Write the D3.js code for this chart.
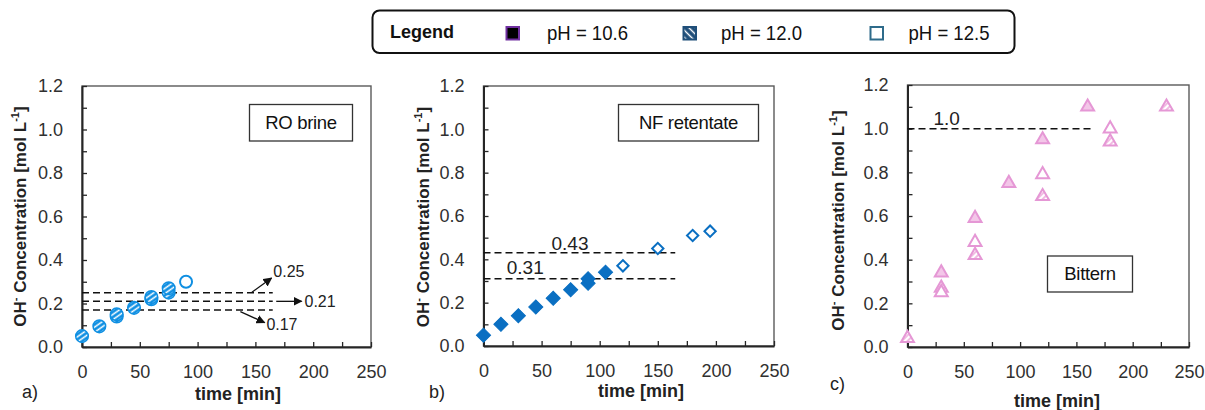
<!DOCTYPE html>
<html>
<head>
<meta charset="utf-8">
<script src="https://cdn.jsdelivr.net/npm/d3@7"></script>
<style>
  html, body { margin: 0; padding: 0; background: #fff; }
  svg { display: block; font-family: "Liberation Sans", Arial, sans-serif; }
</style>
</head>
<body>
<svg id="chart" width="1205" height="410"></svg>
<script>
// ---------- data ----------
const timeTicks = [0, 50, 100, 150, 200, 250];
const concTicks = [0, 0.2, 0.4, 0.6, 0.8, 1.0, 1.2];
const phLabels = ["pH = 10.6", "pH = 12.0", "pH = 12.5"];

// a) RO brine
const roTime120 = [0, 15, 30, 30, 45, 60, 60, 75, 75];
const roConc120 = [0.05, 0.095, 0.14, 0.15, 0.18, 0.22, 0.23, 0.25, 0.27];
const roTime125 = [90];
const roConc125 = [0.30];
const roGuides = [0.25, 0.21, 0.17];

// b) NF retentate
const nfTime106 = [0, 15, 30, 45, 60, 75, 90, 90, 105];
const nfConc106 = [0.05, 0.10, 0.14, 0.18, 0.22, 0.26, 0.29, 0.31, 0.34];
const nfTime125 = [120, 150, 180, 195];
const nfConc125 = [0.37, 0.45, 0.51, 0.53];
const nfGuides = [0.43, 0.31];

// c) Bittern
const btTime106 = [30, 60, 90, 120, 160];
const btConc106 = [0.34, 0.59, 0.75, 0.95, 1.10];
const btTime120 = [0, 30, 60, 120, 180, 230];
const btConc120 = [0.04, 0.27, 0.42, 0.69, 0.94, 1.10];
const btTime125 = [30, 60, 120, 180];
const btConc125 = [0.25, 0.48, 0.79, 1.00];
const btGuides = [1.0];

const guideEnd = 165;   // time where the dashed reference lines stop

// ---------- styling ----------
const BLUE_A = "#0F8FE2";
const BLUE_B = "#0A6FC2";
const PINK = "#E597D5";
const PINK_FILL = "#F3C6E8";

const svg = d3.select("#chart");
const defs = svg.append("defs");

function hatch(id, bg, fg, size, width, angle) {
  const p = defs.append("pattern")
    .attr("id", id)
    .attr("patternUnits", "userSpaceOnUse")
    .attr("width", size).attr("height", size)
    .attr("patternTransform", `rotate(${angle})`);
  p.append("rect").attr("width", size).attr("height", size).attr("fill", bg);
  p.append("line").attr("x1", 0).attr("x2", size).attr("y1", size / 2).attr("y2", size / 2)
    .attr("stroke", fg).attr("stroke-width", width);
}
hatch("hatchBlue", BLUE_A, "#fff", 4.2, 1.5, -35);
hatch("hatchPink", "#fff", "#F0B4DF", 4, 1.8, -45);
hatch("hatchLegend", "#1F4E79", "#fff", 5, 1.4, 45);

defs.append("marker")
  .attr("id", "arrowHead")
  .attr("viewBox", "0 0 10 10")
  .attr("refX", 9).attr("refY", 5)
  .attr("markerWidth", 9).attr("markerHeight", 9)
  .attr("markerUnits", "userSpaceOnUse")
  .attr("orient", "auto")
  .append("path").attr("d", "M0,0 L10,5 L0,10 Z").attr("fill", "#111");

const markerStyles = {
  circleHatch:  { type: d3.symbolCircle,   size: Math.PI * 6.3 * 6.3, fill: "url(#hatchBlue)", stroke: BLUE_A, sw: 1.5, rot: 0 },
  circleOpen:   { type: d3.symbolCircle,   size: Math.PI * 6 * 6,     fill: "#fff",            stroke: BLUE_A, sw: 2,   rot: 0 },
  diamondFill:  { type: d3.symbolSquare,   size: 100,                 fill: BLUE_B,            stroke: BLUE_B, sw: 1,   rot: 45 },
  diamondOpen:  { type: d3.symbolSquare,   size: 64,                  fill: "#fff",            stroke: BLUE_B, sw: 2,   rot: 45 },
  triFill:      { type: d3.symbolTriangle, size: 72,                  fill: PINK_FILL,         stroke: PINK,   sw: 2,   rot: 0 },
  triHatch:     { type: d3.symbolTriangle, size: 72,                  fill: "url(#hatchPink)", stroke: PINK,   sw: 2,   rot: 0 },
  triOpen:      { type: d3.symbolTriangle, size: 72,                  fill: "#fff",            stroke: PINK,   sw: 2,   rot: 0 }
};

// ---------- panels ----------
const panels = [
  {
    letter: "a)", letterPos: [22, 398],
    frame: { left: 82, right: 371, top: 86, bottom: 347 },
    xTitle: [238, 400], yTitle: [20, 216.5],
    name: "RO brine", nameBox: { x: 249.5, y: 104.5, w: 103, h: 36.5 },
    series: [
      { t: roTime120, c: roConc120, style: "circleHatch" },
      { t: roTime125, c: roConc125, style: "circleOpen" }
    ],
    guides: roGuides,
    arrows: [
      { from: [147, 0.252], to: [164, 0.317], label: [165.5, 0.347] },
      { from: [168, 0.21],  to: [190, 0.21],  label: [192.5, 0.209] },
      { from: [137, 0.163], to: [158, 0.112], label: [159.5, 0.102] }
    ]
  },
  {
    letter: "b)", letterPos: [429, 398],
    frame: { left: 483.5, right: 774, top: 86, bottom: 346 },
    xTitle: [641, 397], yTitle: [423, 217],
    name: "NF retentate", nameBox: { x: 618.5, y: 104.5, w: 140, h: 36.5 },
    series: [
      { t: nfTime106, c: nfConc106, style: "diamondFill" },
      { t: nfTime125, c: nfConc125, style: "diamondOpen" }
    ],
    guides: nfGuides,
    guideLabels: [ { x: 58.5, lift: 2.5 }, { x: 20, lift: 5 } ]
  },
  {
    letter: "c)", letterPos: [830, 390],
    frame: { left: 907.5, right: 1189, top: 85, bottom: 347 },
    xTitle: [1057, 407], yTitle: [838, 220.5],
    name: "Bittern", nameBox: { x: 1047.5, y: 256, w: 85, h: 36 },
    series: [
      { t: btTime106, c: btConc106, style: "triFill" },
      { t: btTime120, c: btConc120, style: "triHatch" },
      { t: btTime125, c: btConc125, style: "triOpen" }
    ],
    guides: btGuides,
    guideLabels: [ { x: 23, lift: 4, text: "1.0" } ]
  }
];

const yMinor = d3.range(0, 1.2001, 0.1).map(v => +v.toFixed(1));
const xMinor = d3.range(0, 251, 25);
const majorY = new Set(concTicks.map(v => v.toFixed(1)));
const majorX = new Set(timeTicks);

panels.forEach(p => {
  const f = p.frame;
  const x = d3.scaleLinear().domain([0, 250]).range([f.left, f.right]);
  const y = d3.scaleLinear().domain([0, 1.2]).range([f.bottom, f.top]);
  const g = svg.append("g");

  // frame
  g.append("rect")
    .attr("x", f.left).attr("y", f.top)
    .attr("width", f.right - f.left).attr("height", f.bottom - f.top)
    .attr("fill", "none").attr("stroke", "#5a5a5a").attr("stroke-width", 1.4);

  // y axis with inward ticks
  const yAxis = d3.axisLeft(y)
    .tickValues(yMinor)
    .tickSizeInner(-5).tickSizeOuter(0).tickPadding(19)
    .tickFormat(v => majorY.has(v.toFixed(1)) ? v.toFixed(1) : "");
  const ya = g.append("g").attr("transform", `translate(${f.left},0)`).call(yAxis);

  // x axis with inward ticks
  const xAxis = d3.axisBottom(x)
    .tickValues(xMinor)
    .tickSizeInner(-5).tickSizeOuter(0).tickPadding(18)
    .tickFormat(v => majorX.has(v) ? String(v) : "");
  const xa = g.append("g").attr("transform", `translate(0,${f.bottom})`).call(xAxis);

  [ya, xa].forEach(a => {
    a.select(".domain").attr("stroke", "#262626").attr("stroke-width", 2);
    a.selectAll(".tick line").attr("stroke", "#262626").attr("stroke-width", 1.3);
    a.selectAll(".tick text").attr("font-size", 18).attr("fill", "#303030")
      .attr("font-family", "'Liberation Sans', Arial, sans-serif");
  });

  // axis titles
  g.append("text")
    .attr("x", p.xTitle[0]).attr("y", p.xTitle[1])
    .attr("text-anchor", "middle").attr("font-weight", "bold").attr("font-size", 18)
    .attr("fill", "#222")
    .text("time [min]");

  const yt = g.append("text")
    .attr("transform", `translate(${p.yTitle[0]},${p.yTitle[1]}) rotate(-90)`)
    .attr("text-anchor", "middle").attr("dy", "0.35em")
    .attr("font-weight", "bold").attr("font-size", 17).attr("fill", "#222");
  yt.append("tspan").text("OH");
  yt.append("tspan").attr("font-size", 11).attr("dy", -7).text("-");
  yt.append("tspan").attr("dy", 7).text(" Concentration [mol L");
  yt.append("tspan").attr("font-size", 11).attr("dy", -7).text("-1");
  yt.append("tspan").attr("dy", 7).text("]");

  // panel letter
  g.append("text")
    .attr("x", p.letterPos[0]).attr("y", p.letterPos[1])
    .attr("font-size", 18).attr("fill", "#222").text(p.letter);

  // sample name box
  g.append("rect")
    .attr("x", p.nameBox.x).attr("y", p.nameBox.y)
    .attr("width", p.nameBox.w).attr("height", p.nameBox.h)
    .attr("fill", "#fff").attr("stroke", "#333").attr("stroke-width", 1.3);
  g.append("text")
    .attr("x", p.nameBox.x + p.nameBox.w / 2).attr("y", p.nameBox.y + p.nameBox.h / 2)
    .attr("dy", "0.35em").attr("text-anchor", "middle")
    .attr("font-size", 18.5).attr("fill", "#111").attr("letter-spacing", -0.3)
    .text(p.name);

  // dashed reference levels
  p.guides.forEach((v, i) => {
    g.append("line")
      .attr("x1", x(0)).attr("x2", x(guideEnd))
      .attr("y1", y(v)).attr("y2", y(v))
      .attr("stroke", "#111").attr("stroke-width", 1.5)
      .attr("stroke-dasharray", "7,4");
    if (p.guideLabels && p.guideLabels[i]) {
      const gl = p.guideLabels[i];
      g.append("text")
        .attr("x", x(gl.x)).attr("y", y(v) - gl.lift)
        .attr("font-size", 19).attr("fill", "#222")
        .text(gl.text || v.toFixed(2));
    }
  });

  // arrow call-outs
  if (p.arrows) {
    p.arrows.forEach((a, i) => {
      g.append("line")
        .attr("x1", x(a.from[0])).attr("y1", y(a.from[1]))
        .attr("x2", x(a.to[0])).attr("y2", y(a.to[1]))
        .attr("stroke", "#111").attr("stroke-width", 1.3)
        .attr("marker-end", "url(#arrowHead)");
      g.append("text")
        .attr("x", x(a.label[0])).attr("y", y(a.label[1]))
        .attr("dy", "0.35em")
        .attr("font-size", 16).attr("fill", "#222")
        .text(p.guides[i].toFixed(2));
    });
  }

  // data markers
  p.series.forEach(s => {
    const st = markerStyles[s.style];
    const pts = s.t.map((t, i) => [t, s.c[i]]);
    g.append("g").selectAll("path")
      .data(pts)
      .join("path")
      .attr("d", d3.symbol(st.type, st.size))
      .attr("transform", d => `translate(${x(d[0])},${y(d[1])}) rotate(${st.rot})`)
      .attr("fill", st.fill)
      .attr("stroke", st.stroke)
      .attr("stroke-width", st.sw);
  });
});

// ---------- legend ----------
const lg = svg.append("g");
lg.append("rect")
  .attr("x", 372.5).attr("y", 10.5).attr("width", 642).attr("height", 42.5)
  .attr("rx", 7).attr("fill", "#fff").attr("stroke", "#111").attr("stroke-width", 2);
lg.append("text")
  .attr("x", 390).attr("y", 37.5)
  .attr("font-weight", "bold").attr("font-size", 18).attr("fill", "#111")
  .text("Legend");

const swatches = [
  { x: 506.5, fill: "#000",              stroke: "#7030A0" },
  { x: 683.5, fill: "url(#hatchLegend)", stroke: "#1F4E79" },
  { x: 870.5, fill: "#fff",              stroke: "#2E6B8A" }
];
const legendTextX = [547, 721, 908.5];
swatches.forEach((s, i) => {
  lg.append("rect")
    .attr("x", s.x).attr("y", 27).attr("width", 12.5).attr("height", 12.5)
    .attr("fill", s.fill).attr("stroke", s.stroke).attr("stroke-width", 2);
  lg.append("text")
    .attr("x", legendTextX[i]).attr("y", 40)
    .attr("font-size", 21).attr("fill", "#111")
    .attr("textLength", 81).attr("lengthAdjust", "spacingAndGlyphs")
    .text(phLabels[i]);
});
</script>
</body>
</html>
